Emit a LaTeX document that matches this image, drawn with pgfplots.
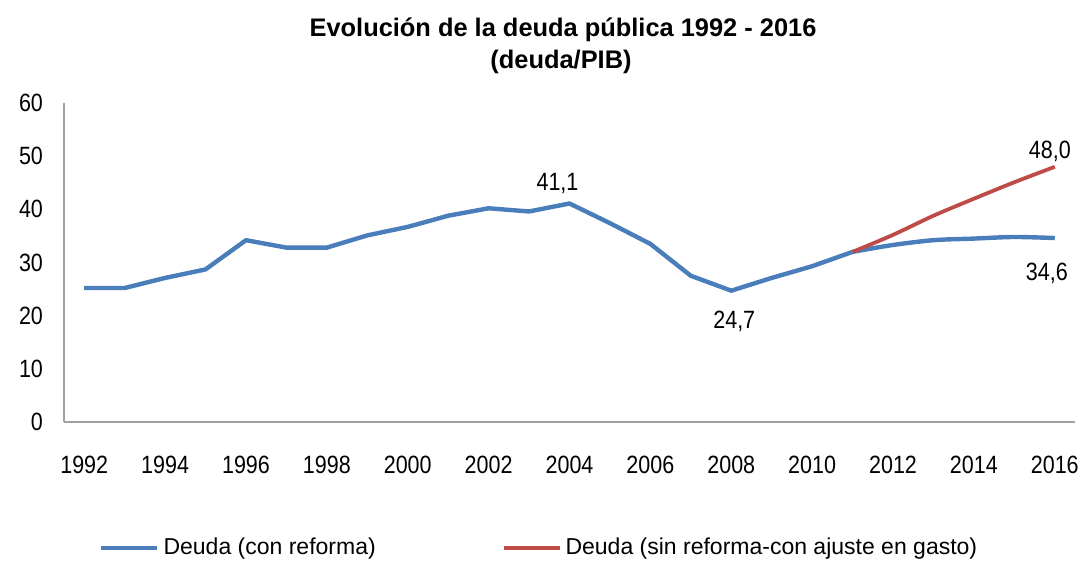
\documentclass[border=0pt]{standalone}
\usepackage{fontspec}
\setmainfont{Liberation Sans}
\newfontfamily\narrow{Liberation Sans}[FakeStretch=0.86]
\usepackage{pgfplots}
\pgfplotsset{compat=1.18}
\definecolor{bl}{RGB}{74,126,187}
\definecolor{rd}{RGB}{190,75,72}
\definecolor{ax}{RGB}{160,160,160}
\begin{document}
\begin{tikzpicture}
\useasboundingbox (0,0) rectangle (545.5pt,281.5pt);
\begin{axis}[
  at={(32pt,70.5pt)}, anchor=south west,
  scale only axis, width=505.5pt, height=159.5pt,
  xmin=1991.5, xmax=2016.5, ymin=0, ymax=60,
  axis x line*=bottom, axis y line*=left,
  axis line style={ax, line width=0.8pt, -},
  xtick={1992,1994,...,2016}, ytick={0,10,...,60},
  major tick length=0pt,
  /pgf/number format/assume math mode=true,
  xticklabel={\pgfmathprintnumber[1000 sep={},fixed]{\tick}},
  tick label style={font=\narrow\fontsize{12.5}{14}\selectfont},
  xticklabel style={anchor=center, yshift=-21.5pt},
  yticklabel style={anchor=east, xshift=-7pt},
  legend columns=2,
  legend style={at={(0.471,-0.395)}, anchor=center, draw=none, fill=none,
    font=\fontsize{11.5}{13}\selectfont, inner sep=0pt,
    /tikz/every even column/.append style={column sep=61pt}},
  legend cell align=left,
  legend image code/.code={\draw[#1] (0pt,0pt) -- (28pt,0pt);},
  clip=false,
]
\addplot[bl, line width=2.2pt, line join=round] coordinates {
(1992,25.2)(1993,25.2)(1994,27.1)(1995,28.7)(1996,34.2)(1997,32.8)(1998,32.8)
(1999,35.1)(2000,36.7)(2001,38.8)(2002,40.2)(2003,39.6)(2004,41.1)(2005,37.4)
(2006,33.5)(2007,27.5)(2008,24.7)(2009,27.1)(2010,29.3)(2011,32.0)};
\addlegendentry{Deuda (con reforma)}
\addplot[bl, line width=2.2pt, smooth, forget plot] coordinates {
(2011,32.0)(2012,33.3)(2013,34.2)(2014,34.5)(2015,34.8)(2016,34.6)};
\addplot[rd, line width=1.9pt, smooth] coordinates {
(2011,32.0)(2012,35.2)(2013,38.8)(2014,42.0)(2015,45.1)(2016,48.0)};
\addlegendentry{Deuda (sin reforma-con ajuste en gasto)}
\node[font=\narrow\fontsize{12.5}{14}\selectfont, xshift=-6pt, yshift=10pt] at (axis cs:2004,41.1) {41,1};
\node[font=\narrow\fontsize{12.5}{14}\selectfont, xshift=1.5pt, yshift=-15.5pt] at (axis cs:2008,24.7) {24,7};
\node[font=\narrow\fontsize{12.5}{14}\selectfont, xshift=-2.5pt, yshift=7.5pt] at (axis cs:2016,48.0) {48,0};
\node[font=\narrow\fontsize{12.5}{14}\selectfont, xshift=-4pt, yshift=-17.5pt] at (axis cs:2016,34.6) {34,6};
\end{axis}
\node[font=\bfseries\fontsize{12.7}{15}\selectfont] at (281.5pt,266.5pt) {Evolución de la deuda pública 1992 - 2016};
\node[font=\bfseries\fontsize{12.7}{15}\selectfont] at (280.5pt,250.5pt) {(deuda/PIB)};
\end{tikzpicture}
\end{document}
